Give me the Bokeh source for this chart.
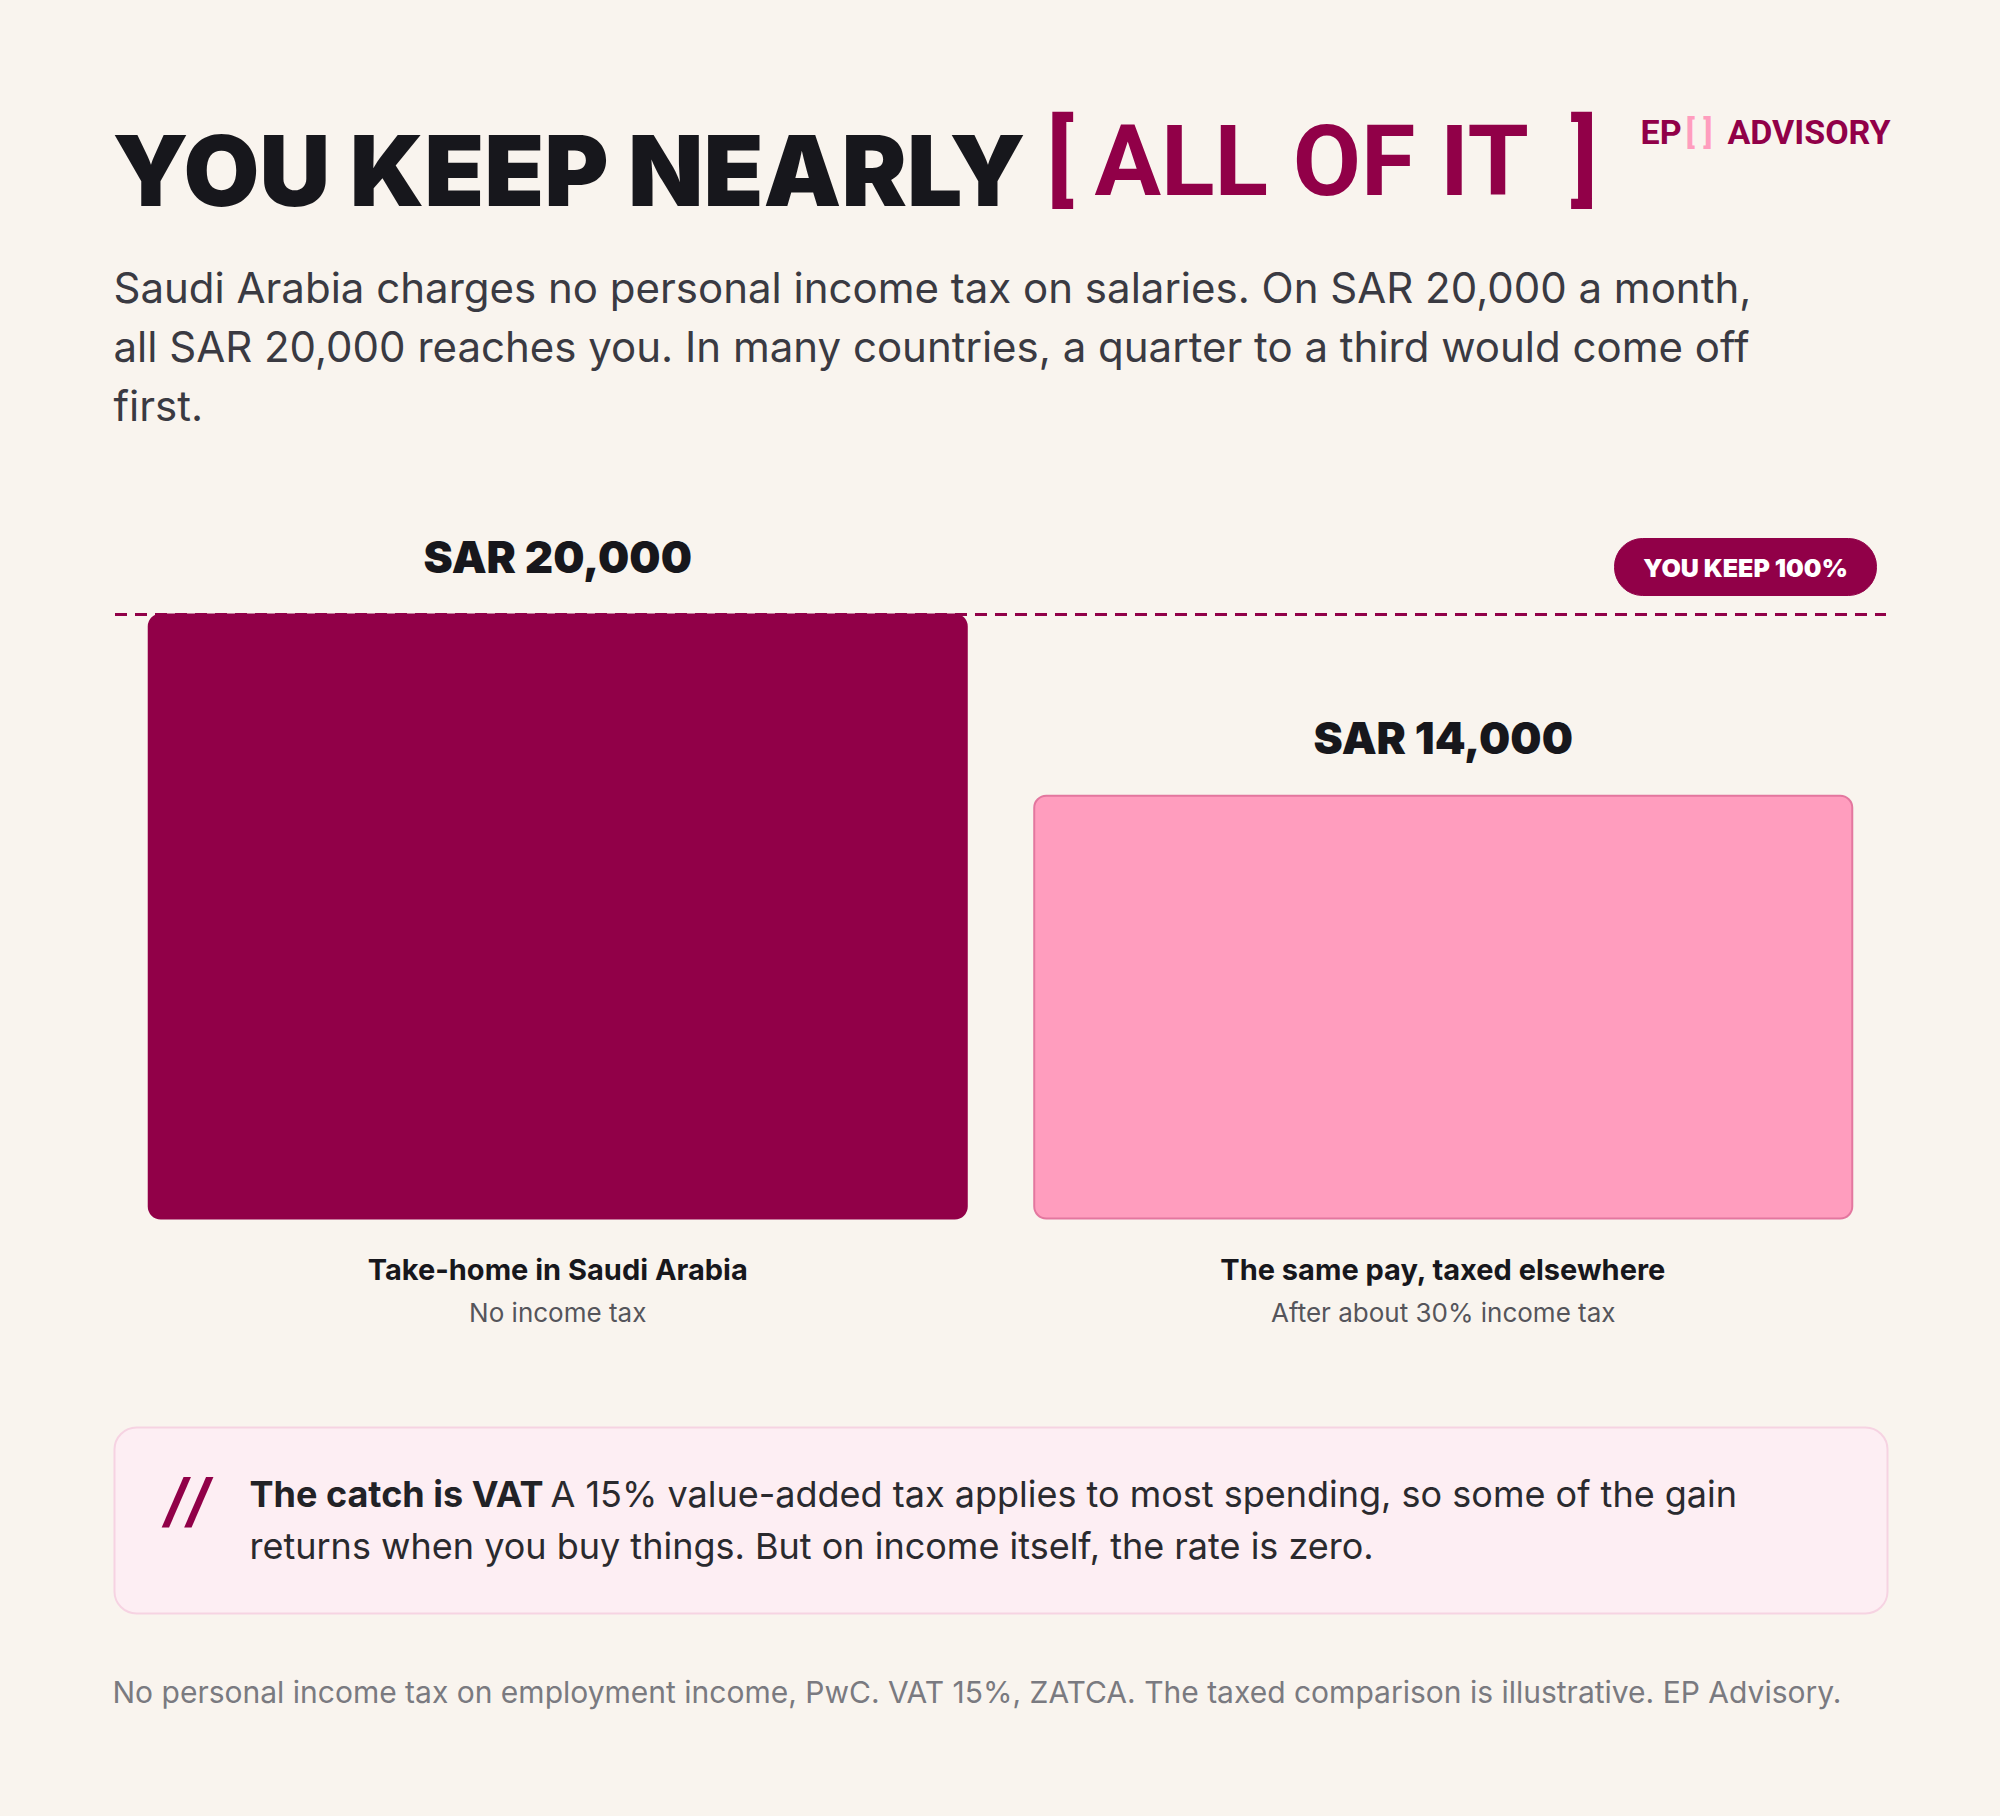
from bokeh.plotting import figure
from bokeh.models import ColumnDataSource, FactorRange, Range1d
from bokeh.core.properties import value
from bokeh.embed import file_html
from bokeh.resources import INLINE

# ---------------- data ----------------
categories = ["Take-home in Saudi Arabia", "The same pay, taxed elsewhere"]
sublabels = ["No income tax", "After about 30% income tax"]
take_home = [20000, 14000]
currency = "SAR"

# ---------------- style ----------------
BG = "#f9f4ee"
CRIMSON = "#910048"
PINK = "#ff9dbe"
PINK_LINE = "#e3779f"
INK = "#17171c"
TEXT = "#3a3a42"
MUTED = "#55555b"
FOOT = "#7a7a80"
HEAVY = "Inter Black"

W, H = 2000, 1816
PX_PER_UNIT = 604 / 20000.0          # vertical scale (px per SAR)
ZERO_FROM_BOTTOM = 598               # px from figure bottom to y = 0
PAD = 0.1293                         # category range padding (each side, in category units)
X_SCALE = W / (len(categories) + 2 * PAD)
BASE_SHIFT = 0.38                    # em correction for the alphabetic baseline

src = ColumnDataSource(dict(
    cat=categories,
    sub=sublabels,
    val=take_home,
    vlabel=[f"{currency} {v:,}" for v in take_home],
    fill=[CRIMSON, PINK],
    line=[CRIMSON, PINK_LINE],
))

p = figure(
    width=W, height=H,
    x_range=FactorRange(*categories, range_padding=PAD),
    y_range=Range1d(-ZERO_FROM_BOTTOM / PX_PER_UNIT, (H - ZERO_FROM_BOTTOM) / PX_PER_UNIT),
    x_axis_location=None, y_axis_location=None,
    toolbar_location=None, output_backend="svg",
    min_border=0, outline_line_color=None,
    background_fill_color=BG, border_fill_color=BG,
)
p.grid.visible = False


def dx(px):   # page pixel -> synthetic x
    return -PAD + px / X_SCALE


def dy(py):   # page pixel -> data y
    return (H - ZERO_FROM_BOTTOM - py) / PX_PER_UNIT


# callout panel and badge (decoration boxes)
p.quad(left=[dx(114)], right=[dx(1887)], top=[dy(1427)], bottom=[dy(1613)],
       fill_color="#fdeef3", line_color="#f6d3e2", line_width=2, border_radius=22)
p.quad(left=[dx(1614)], right=[dx(1876)], top=[dy(538)], bottom=[dy(595)],
       fill_color=CRIMSON, line_color=CRIMSON, line_width=1, border_radius=28)

# dashed reference line at the full salary
p.segment(x0=[0], x1=[len(categories)], y0=[max(take_home)], y1=[max(take_home)],
          line_color=CRIMSON, line_width=3, line_dash="12 8")

p.vbar(x="cat", top="val", width=0.9238, source=src,
       fill_color="fill", line_color="line", line_width=2, border_radius=12)

p.text(x="cat", y="val", text="vlabel", source=src, y_offset=-58,
       text_align="center", text_baseline="alphabetic",
       text_font=value(HEAVY), text_font_style="bold", text_font_size="44px", text_color=INK)
p.text(x="cat", y=0, text="cat", source=src, y_offset=51,
       text_align="center", text_baseline="alphabetic",
       text_font=value("Inter"), text_font_style="bold", text_font_size="29px", text_color=INK)
p.text(x="cat", y=0, text="sub", source=src, y_offset=94,
       text_align="center", text_baseline="alphabetic",
       text_font=value("Inter"), text_font_size="26px", text_color=MUTED)


def txt(text, px, py, size, color, font="Inter", style="normal", align="left", baseline="alphabetic"):
    if baseline == "alphabetic":
        py = py - BASE_SHIFT * size
    p.text(x=[dx(px)], y=[dy(py)], text=[text],
           text_font=value(font), text_font_style=style, text_font_size=f"{size}px",
           text_color=color, text_align=align, text_baseline=baseline)


# footer
txt("No personal income tax on employment income, PwC. VAT 15%, ZATCA. "
    "The taxed comparison is illustrative. EP Advisory.", 112, 1703, 30, FOOT)

# callout text
txt("The catch is VAT", 249, 1507, 36, "#222226", style="bold")
txt("A 15% value-added tax applies to most spending, so some of the gain", 550, 1507, 36, "#2a2a2e")
txt("returns when you buy things. But on income itself, the rate is zero.", 249, 1559, 36, "#2a2a2e")

# subtitle
sub_lines = [
    "Saudi Arabia charges no personal income tax on salaries. On SAR 20,000 a month,",
    "all SAR 20,000 reaches you. In many countries, a quarter to a third would come off",
    "first.",
]
for i, t in enumerate(sub_lines):
    txt(t, 113, 303 + 59 * i, 42, TEXT)

# badge text
txt("YOU KEEP 100%", 1745, 567, 25, "white", font=HEAVY, style="bold", align="center", baseline="middle")

# logo
txt("EP", 1640, 144, 34, CRIMSON, font="Roboto", style="bold")
txt("[ ]", 1685, 144, 34, PINK, font="Roboto", style="bold")
txt("ADVISORY", 1727, 144, 34, CRIMSON, font="Roboto", style="bold")

# headline
txt("YOU KEEP NEARLY", 112, 207, 98, INK, font=HEAVY, style="bold")
txt("ALL OF IT", 1094, 198, 99, CRIMSON, font="Roboto", style="bold")
txt("[", 1046, 196, 99, CRIMSON, font="Roboto", style="bold")
txt("]", 1570, 196, 99, CRIMSON, font="Roboto", style="bold")
txt("//", 164, 1522, 58, CRIMSON, style="bold italic")

html = file_html(p, INLINE)
html = html.replace("</head>", f"<style>body{{background:{BG};}}</style></head>", 1)
open("out.html", "w").write(html)
